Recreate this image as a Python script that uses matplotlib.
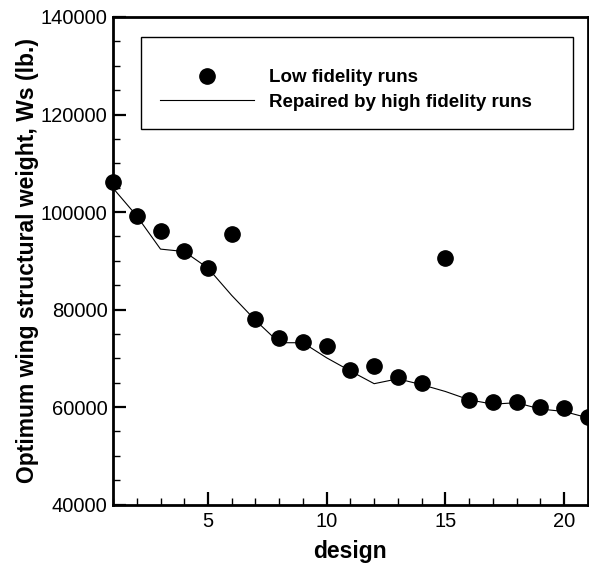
import numpy as np
import matplotlib
matplotlib.use("Agg")
import matplotlib.pyplot as plt
from matplotlib.patches import Rectangle
from matplotlib.ticker import MultipleLocator

plt.rcParams["font.family"] = ["Liberation Sans", "DejaVu Sans"]

# ─── DATA ─────────────────────────────────────────────────────────────────────
design = np.arange(1, 22)

# structural weight from the low fidelity analysis (lb.)
low_fidelity = [106200, 99200, 96200, 92000, 88500, 95400, 78000, 74200, 73400, 72500,
                67600, 68400, 66200, 65000, 90600, 61400, 61100, 61100, 60100, 59900, 57900]

# same designs after correction with the high fidelity runs (lb.)
repaired = [104900, 99200, 92400, 91900, 88500, 82900, 77800, 73200, 73200, 70100,
            67400, 64800, 65800, 64600, 63200, 61500, 60600, 60900, 59600, 59100, 57800]
# ──────────────────────────────────────────────────────────────────────────────

fig = plt.figure(figsize=(5.89, 5.70), dpi=100)
ax = fig.add_axes([0.1919, 0.1147, 0.8061, 0.8555])

line, = ax.plot(design, repaired, color="black", linewidth=0.8,
                label="Repaired by high fidelity runs")
pts, = ax.plot(design, low_fidelity, linestyle="none", marker="o", markersize=11,
               color="black", label="Low fidelity runs", zorder=3, clip_on=False)

ax.set_xlim(1, 21)
ax.set_ylim(40000, 140000)
ax.xaxis.set_major_locator(MultipleLocator(5))
ax.xaxis.set_minor_locator(MultipleLocator(1))
ax.yaxis.set_major_locator(MultipleLocator(20000))
ax.yaxis.set_minor_locator(MultipleLocator(5000))

ax.tick_params(which="both", direction="in", labelsize=14.5, colors="black")
ax.tick_params(which="major", length=9.5, width=1.6)
ax.tick_params(which="minor", length=5, width=1)
ax.tick_params(axis="x", pad=5)
ax.tick_params(axis="y", pad=4)
for s in ax.spines.values():
    s.set_linewidth(2)

ax.set_xlabel("design", fontsize=16.5, fontweight="bold", labelpad=7)
ax.set_ylabel("Optimum wing structural weight, Ws (lb.)", fontsize=16.5,
              fontweight="bold", labelpad=1)

# legend box
ax.add_patch(Rectangle((0.0583, 0.7697), 0.9107, 0.19, transform=ax.transAxes,
                       fill=False, edgecolor="black", linewidth=1, zorder=4))
ax.legend(handles=[pts, line], loc="upper left", bbox_to_anchor=(0.0989, 0.893),
          frameon=False, borderpad=0, borderaxespad=0, handlelength=5.0,
          handletextpad=0.8, labelspacing=0.38,
          prop={"size": 13.5, "weight": "bold"})

plt.savefig("out.png", dpi=100)
